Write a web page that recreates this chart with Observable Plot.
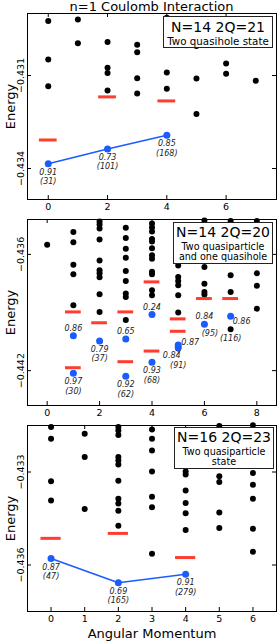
<!DOCTYPE html>
<html><head><meta charset="utf-8">
<script src="https://cdn.jsdelivr.net/npm/d3@7"></script>
<script src="https://cdn.jsdelivr.net/npm/@observablehq/plot@0.6"></script>
<style>
body{margin:0;background:#fff;}
#wrap{position:relative;width:280px;height:644px;overflow:hidden;font-family:"DejaVu Sans",sans-serif;color:#000;}
.p{position:absolute;left:0;}
.box{position:absolute;background:#fff;border:1px solid #222;box-sizing:border-box;}
.box div{position:absolute;left:0;right:0;text-align:center;white-space:nowrap;}
.title{position:absolute;left:27px;width:249px;text-align:center;font-size:13px;line-height:16px;}
</style></head><body>
<div id="wrap">
 <div class="title" id="title" style="top:-1.5px"></div>
 <div class="p" id="p1" style="top:0px"></div>
 <div class="p" id="p2" style="top:214px"></div>
 <div class="p" id="p3" style="top:422px"></div>
</div>
<script>
// ---------- data ----------
const titleText = "n=1 Coulomb Interaction";
const xLabel = "Angular Momentum";
const yLabel = "Energy";

// Panel 1: N=14 2Q=21
const p1Ticks = [0, 2, 4, 6];
const p1YTicks = [-0.431, -0.434];
const p1Black = [
  [-0.42924, -0.43048, -0.43135],
  [-0.42919, -0.42996],
  [-0.42992, -0.43075, -0.43092, -0.43148],
  [-0.43001, -0.43025, -0.43109, -0.43158],
  [-0.42914, -0.42925, -0.42955, -0.42967, -0.43001, -0.43090, -0.43143],
  [-0.43005, -0.43110, -0.43224],
  [-0.43061, -0.43094],
  [-0.43117]
];
const p1RedL = [0, 2, 4];
const p1RedE = [-0.43308, -0.43169, -0.43182];
const p1BlueL = [0, 2, 4];
const p1BlueE = [-0.43385, -0.43337, -0.43293];
const p1Fid = ["0.91", "0.73", "0.85"];
const p1Count = ["(31)", "(101)", "(168)"];
const p1FidPos = ["below", "below", "below"];
const p1CountPos = ["under", "under", "under"];
const p1Legend = ["N=14 2Q=21", "Two quasihole state"];

// Panel 2: N=14 2Q=20
const p2Ticks = [0, 2, 4, 6, 8];
const p2YTicks = [-0.436, -0.442];
const p2Black = [
  [-0.43550],
  [-0.43485, -0.43537, -0.43653, -0.43703, -0.43862],
  [-0.43430, -0.43446, -0.43466, -0.43523, -0.43631, -0.43682, -0.43698, -0.43718, -0.43806, -0.43897],
  [-0.43463, -0.43516, -0.43571, -0.43617, -0.43686, -0.43737, -0.43802, -0.43820, -0.43939],
  [-0.43441, -0.43461, -0.43482, -0.43520, -0.43533, -0.43569, -0.43605, -0.43623, -0.43690, -0.43703, -0.43785, -0.43811],
  [-0.43657, -0.43717, -0.43737, -0.43759, -0.43811, -0.43900, -0.44086],
  [-0.43425, -0.43665, -0.43751, -0.43794, -0.43807],
  [-0.43428, -0.43708, -0.43794, -0.43987],
  [-0.43428, -0.43698, -0.43762, -0.43880]
];
const p2RedL = [1, 1, 2, 3, 3, 4, 4, 5, 5, 6, 7];
const p2RedE = [-0.43897, -0.44185, -0.43953, -0.43897, -0.44154, -0.43742, -0.44099, -0.43933, -0.43997, -0.43828, -0.43828];
const p2BlueL = [1, 1, 2, 3, 3, 4, 4, 5, 5, 6, 7];
const p2BlueE = [-0.44020, -0.44213, -0.44047, -0.44037, -0.44229, -0.43910, -0.44157, -0.44081, -0.44068, -0.43961, -0.43919];
const p2Fid = ["0.86", "0.97", "0.79", "0.65", "0.92", "0.24", "0.93", "0.84", "0.87", "0.84", "0.86"];
const p2Count = ["", "(30)", "(37)", "", "(62)", "", "(68)", "(91)", "", "(95)", "(116)"];
const p2FidPos = ["above", "below", "below", "above", "below", "above", "below", "belowLeft", "right", "above", "rightLow"];
const p2CountPos = ["", "under", "under", "", "under", "", "under", "under", "", "belowRight", "under2"];
const p2Legend = ["N=14 2Q=20", "Two quasiparticle", "and one quasihole"];

// Panel 3: N=16 2Q=23
const p3Ticks = [0, 1, 2, 3, 4, 5, 6];
const p3YTicks = [-0.433, -0.436];
const p3Black = [
  [-0.43155, -0.43193, -0.43330, -0.43392],
  [-0.43177, -0.43252, -0.43419],
  [-0.43155, -0.43166, -0.43181, -0.43252, -0.43263, -0.43276, -0.43328, -0.43386, -0.43402, -0.43425, -0.43473],
  [-0.43163, -0.43193, -0.43231, -0.43298, -0.43380, -0.43414, -0.43564],
  [-0.43298, -0.43308, -0.43360, -0.43400, -0.43433, -0.43487],
  [-0.43152, -0.43314, -0.43332, -0.43431, -0.43481],
  [-0.43149, -0.43303, -0.43341, -0.43386, -0.43483, -0.43557]
];
const p3RedL = [0, 2, 4];
const p3RedE = [-0.43514, -0.43498, -0.43576];
const p3BlueL = [0, 2, 4];
const p3BlueE = [-0.43579, -0.43657, -0.43630];
const p3Fid = ["0.87", "0.69", "0.91"];
const p3Count = ["(47)", "(165)", "(279)"];
const p3FidPos = ["below", "below", "below"];
const p3CountPos = ["under", "under", "under"];
const p3Legend = ["N=16 2Q=23", "Two quasiparticle", "state"];

// ---------- style ----------
const BLUE = "#1b5cff";
const RED = "#ff3c2e";
const FONT = "DejaVu Sans";
const PLACE = {
  below: [0, 8.6], under: [0, 17.8], above: [0, -7.5], right: [12, -3],
  rightLow: [11, 5.5], belowLeft: [-6.5, 8.3], belowRight: [5.5, 9], under2: [0, 22]
};
const fmt = d3.format(".3f");
const W = 280, ML = 27, MR = 4;

document.getElementById("title").textContent = titleText;

function makePanel(o) {
  const fh = o.height - o.mt - o.mb;
  const fw = W - ML - MR;
  const black = o.black.flatMap((es, L) => es.map(e => ({L, e})));
  const red = o.redL.map((L, i) => ({L, e: o.redE[i]}));
  const blue = o.blueL.map((L, i) => ({L, e: o.blueE[i], fid: o.fid[i], cnt: o.cnt[i], fp: o.fidPos[i], cp: o.cntPos[i]}));
  const LBL = {fontSize: 8, fontStyle: "italic", fill: "#222", fontFamily: FONT};
  const marks = [
    Plot.dot(black, {x: "L", y: "e", r: 3, fill: "#000"}),
    Plot.ruleY(red, {x1: d => d.L - 0.3, x2: d => d.L + 0.3, y: "e", stroke: RED, strokeWidth: 3})
  ];
  if (o.line) marks.push(Plot.line(blue, {x: "L", y: "e", stroke: BLUE, strokeWidth: 1.5}));
  marks.push(Plot.dot(blue, {x: "L", y: "e", r: 3.5, fill: BLUE}));
  for (const [k, [dx, dy]] of Object.entries(PLACE)) {
    marks.push(Plot.text(blue.filter(d => d.fp === k), {x: "L", y: "e", text: "fid", dx, dy, ...LBL}));
    marks.push(Plot.text(blue.filter(d => d.cp === k), {x: "L", y: "e", text: "cnt", dx, dy, ...LBL}));
  }
  marks.push(
    Plot.frame({stroke: "#000"}),
    Plot.tickX(o.xticks, {x: d => d, insetTop: fh - 4, stroke: "#000"}),
    Plot.tickX(o.xticks, {x: d => d, insetBottom: fh - 4, stroke: "#000"}),
    Plot.tickY(o.yticks, {y: d => d, insetRight: fw - 4, stroke: "#000"}),
    Plot.tickY(o.yticks, {y: d => d, insetLeft: fw - 4, stroke: "#000"}),
    Plot.text(o.xticks, {x: d => d, frameAnchor: "bottom", dy: 10, text: d => String(d), fontSize: 9.5, fontFamily: FONT}),
    Plot.text(o.yticks, {y: d => d, frameAnchor: "left", textAnchor: "middle", dx: -7, rotate: -90, text: d => fmt(d), fontSize: 9.5, fontFamily: FONT}),
    Plot.text([yLabel], {frameAnchor: "left", textAnchor: "middle", dx: -17, rotate: -90, text: d => d, fontSize: 13, fontFamily: FONT})
  );
  if (o.xlabel) marks.push(Plot.text([o.xlabel], {frameAnchor: "bottom", dy: 26, text: d => d, fontSize: 13, fontFamily: FONT}));
  return Plot.plot({
    width: W, height: o.height,
    marginLeft: ML, marginRight: MR, marginTop: o.mt, marginBottom: o.mb,
    style: {background: "transparent", overflow: "visible", fontFamily: FONT},
    x: {domain: o.xdom, axis: null},
    y: {domain: o.ydom, axis: null},
    marks
  });
}

document.getElementById("p1").append(makePanel({
  height: 214, mt: 13, mb: 15, xdom: [-0.7, 7.7], ydom: [-0.435, -0.429],
  xticks: p1Ticks, yticks: p1YTicks, black: p1Black, redL: p1RedL, redE: p1RedE,
  blueL: p1BlueL, blueE: p1BlueE, fid: p1Fid, cnt: p1Count, fidPos: p1FidPos, cntPos: p1CountPos, line: true
}));
document.getElementById("p2").append(makePanel({
  height: 208, mt: 5, mb: 17, xdom: [-0.75, 8.75], ydom: [-0.4438, -0.4342],
  xticks: p2Ticks, yticks: p2YTicks, black: p2Black, redL: p2RedL, redE: p2RedE,
  blueL: p2BlueL, blueE: p2BlueE, fid: p2Fid, cnt: p2Count, fidPos: p2FidPos, cntPos: p2CountPos, line: false
}));
document.getElementById("p3").append(makePanel({
  height: 222, mt: 3, mb: 33, xdom: [-0.7, 6.7], ydom: [-0.4375, -0.4315],
  xticks: p3Ticks, yticks: p3YTicks, black: p3Black, redL: p3RedL, redE: p3RedE,
  blueL: p3BlueL, blueE: p3BlueE, fid: p3Fid, cnt: p3Count, fidPos: p3FidPos, cntPos: p3CountPos, line: true,
  xlabel: xLabel
}));

// legend boxes
function addBox(lines, box) {
  const el = document.createElement("div");
  el.className = "box";
  Object.assign(el.style, {left: box[0] + "px", top: box[1] + "px", width: box[2] + "px", height: box[3] + "px"});
  lines.forEach((t, i) => {
    const d = document.createElement("div");
    const fs = box[4][i], cy = box[5][i];
    d.textContent = t;
    Object.assign(d.style, {fontSize: fs + "px", lineHeight: "14px", top: (cy - 1 - 7) + "px"});
    el.append(d);
  });
  document.getElementById("wrap").append(el);
}
addBox(p1Legend, [163, 16, 110, 31.5, [14, 10.3], [10.7, 24.7]]);
addBox(p2Legend, [173, 221.5, 100, 42.5, [14, 9.6, 9.6], [10.8, 25.8, 35.8]]);
addBox(p3Legend, [174, 427.3, 100, 42, [14, 9.6, 9.6], [9.4, 24.4, 34.4]]);
</script>
</body></html>
